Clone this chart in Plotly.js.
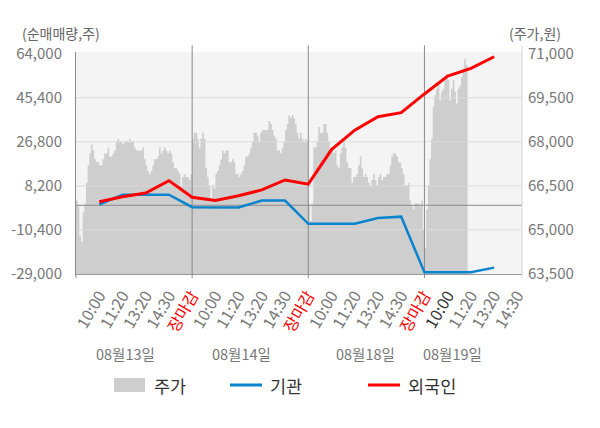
<!DOCTYPE html>
<html>
<head>
<meta charset="utf-8">
<script src="https://cdn.plot.ly/plotly-3.0.1.min.js"></script>
<style>
  body { margin: 0; background: #fff; }
  #chart { width: 600px; height: 428px; }
</style>
</head>
<body>
<div id="chart"></div>
<script>
// price (주가) per day, sampled along the session
const day1Price = [66000, 65800, 64800, 64600, 65600, 65900, 66600, 67200, 67600, 67900,
  67700, 67400, 67300, 67300, 67200, 67200, 67400, 67600, 67600, 67800,
  67500, 67500, 67600, 67700, 68000, 68100, 68000, 68000, 67900, 68000,
  68000, 68000, 68100, 68000, 68000, 67800, 67700, 67700, 67700, 67700,
  67800, 67400, 67200, 67000, 66900, 67000, 67200, 67400, 67400, 67500,
  67800, 67600, 67700, 67800, 67700, 67600, 67700, 67600, 67300, 67100,
  67100, 67000, 66900, 66500, 66800, 66900, 66800, 66800, 66700, 66900];
const day2Price = [68100, 68300, 68300, 68100, 67800, 68100, 68300, 68100, 67100, 66800,
  66500, 66000, 66500, 66400, 66900, 67000, 67200, 67400, 67700, 67600,
  67700, 67700, 67300, 67300, 67400, 67300, 66900, 66900, 66800, 66900,
  67000, 67200, 67500, 67500, 67600, 67800, 68000, 68300, 68300, 68200,
  68000, 68300, 68400, 68400, 68400, 68400, 68700, 68600, 68400, 68200,
  68100, 67700, 67700, 67600, 67800, 68000, 68400, 68600, 68900, 68800,
  68900, 68800, 68600, 68300, 68100, 68300, 68100, 68000, 68100, 68000];
const day3Price = [65900, 65300, 65900, 67800, 67800, 68000, 68500, 68300, 68300, 68600,
  68600, 68300, 68000, 67700, 67800, 67600, 67700, 67200, 67100, 67600,
  67800, 68000, 67800, 67300, 67100, 67100, 66600, 66800, 66800, 66900,
  67200, 67500, 67100, 66800, 66900, 66800, 66600, 66500, 66700, 66900,
  66700, 66500, 66800, 66900, 66700, 66800, 66800, 66900, 66900, 67200,
  67500, 67600, 67600, 67500, 67300, 67300, 67100, 66900, 66500, 66500,
  66600, 66000, 65800, 65700, 65900, 65900, 65900, 65800, 66000, 65000];
const day4Price = [64400, 65700, 66500, 67400, 68100, 69200, 69600, 69800, 70000, 69400,
  69700, 69800, 70200, 70300, 70100, 69400, 69800, 70100, 69700, 69300,
  69800, 69900, 70200, 70500, 70800, 70600, 70600];

// cumulative net buying (순매매량) at each labelled time
const foreignNet = [1500, 3600, 5200, 10400, 3400, 2000, 4000, 6500, 10700, 8900,
  23500, 31700, 37400, 39100, 47000, 54500, 57800, 62700];
const instNet = [300, 4500, 4500, 4500, -800, -900, -900, 2000, 2000, -7800,
  -7800, -7800, -5400, -4800, -28300, -28300, -28300, -26300];

const sessionLabels = ['10:00', '11:20', '13:20', '14:30', '장마감'];
const dayLabels = ['08월13일', '08월14일', '08월18일', '08월19일'];
const leftTicks = [-29000, -10400, 8200, 26800, 45400, 64000];
const rightTicks = [63500, 65000, 66500, 68000, 69500, 71000];

const FONT = '"Noto Sans CJK KR", "Noto Sans", sans-serif';
const W = 600, H = 428, ML = 76, MR = 78, MT = 52, MB = 154;
const PW = W - ML - MR, PH = H - MT - MB;
const px = v => (v - ML) / PW;
const py = v => (H - MB - v) / PH;

const perDay = 5, samples = 70;
const xMax = 19.2;
const leftRange = [-29000, 64700];
const rightRange = [63500, 71050];

// price area x positions
const priceX = [], priceY = [];
[day1Price, day2Price, day3Price, day4Price].forEach((arr, d) => {
  arr.forEach((v, i) => {
    priceX.push(d * perDay + i * perDay / samples);
    priceY.push(v);
  });
});

const lineX = foreignNet.map((_, i) => i + 1);

// x tick labels
const tickVals = [], tickText = [];
dayLabels.forEach((_, d) => {
  sessionLabels.forEach((s, j) => {
    if (d === dayLabels.length - 1 && j === sessionLabels.length - 1) return;
    tickVals.push(d * perDay + j + 1);
    if (s === '장마감') tickText.push('<span style="color:#ff0000">' + s + '</span>');
    else if (d === dayLabels.length - 1 && j === 0) tickText.push('<span style="color:#333">' + s + '</span>');
    else tickText.push(s);
  });
});

const traces = [];
traces.push({
  x: priceX, y: priceY, type: 'scatter', mode: 'lines',
  line: { width: 0, shape: 'hv', color: '#cecece' },
  fill: 'tozeroy', fillcolor: '#cecece',
  xaxis: 'x', yaxis: 'y', hoverinfo: 'skip', showlegend: false
});
// grid lines over the area
leftTicks.slice(1, -1).forEach(v => {
  traces.push({
    x: [0, xMax], y: [v, v], type: 'scatter', mode: 'lines', yaxis: 'y2',
    line: { color: '#dcdcdc', width: 1 }, hoverinfo: 'skip', showlegend: false
  });
});
// day separators
[1, 2, 3].forEach(d => {
  traces.push({
    x: [d * perDay, d * perDay], y: leftRange, type: 'scatter', mode: 'lines', yaxis: 'y2',
    line: { color: '#8a8a8a', width: 1 }, hoverinfo: 'skip', showlegend: false
  });
});
// zero line
traces.push({
  x: [0, xMax], y: [0, 0], type: 'scatter', mode: 'lines', yaxis: 'y2',
  line: { color: '#8a8a8a', width: 1 }, hoverinfo: 'skip', showlegend: false
});
traces.push({
  x: lineX, y: instNet, type: 'scatter', mode: 'lines', yaxis: 'y2', name: '기관',
  line: { color: '#0a84cc', width: 2.5 }, showlegend: false
});
traces.push({
  x: lineX, y: foreignNet, type: 'scatter', mode: 'lines', yaxis: 'y2', name: '외국인',
  line: { color: '#ff0000', width: 3 }, showlegend: false
});

const fmt = v => v.toLocaleString('en-US');

const annotations = [];
annotations.push({ xref: 'paper', yref: 'paper', x: px(20), y: py(33), xanchor: 'left', yanchor: 'middle',
  text: '(순매매량,주)', showarrow: false, font: { family: FONT, size: 14, color: '#666' } });
annotations.push({ xref: 'paper', yref: 'paper', x: px(563), y: py(33), xanchor: 'right', yanchor: 'middle',
  text: '(주가,원)', showarrow: false, font: { family: FONT, size: 14, color: '#666' } });
const dayCenters = [125, 241, 365, 452];
dayLabels.forEach((t, i) => {
  annotations.push({ xref: 'paper', yref: 'paper', x: px(dayCenters[i]), y: py(353), xanchor: 'center', yanchor: 'middle',
    text: t, showarrow: false, font: { family: FONT, size: 14.5, color: '#777' } });
});
const legendItems = [
  { name: '주가', x: 114, kind: 'box', color: '#cecece' },
  { name: '기관', x: 230, kind: 'line', color: '#0a84cc' },
  { name: '외국인', x: 368, kind: 'line', color: '#ff0000' }
];
const shapes = [];
legendItems.forEach(it => {
  if (it.kind === 'box') {
    shapes.push({ type: 'rect', xref: 'paper', yref: 'paper', x0: px(it.x), x1: px(it.x + 31), y0: py(378), y1: py(392),
      fillcolor: it.color, line: { width: 0 } });
  } else {
    shapes.push({ type: 'line', xref: 'paper', yref: 'paper', x0: px(it.x), x1: px(it.x + 32), y0: py(385), y1: py(385),
      line: { color: it.color, width: 3 } });
  }
  annotations.push({ xref: 'paper', yref: 'paper', x: px(it.x + 38), y: py(385), xanchor: 'left', yanchor: 'middle',
    text: it.name, showarrow: false, font: { family: FONT, size: 17.5, color: '#333' } });
});
// little stubs outside the plot area
[0, 1, 2, 3].forEach(d => {
  const xp = px(ML + d * perDay * PW / xMax);
  shapes.push({ type: 'line', xref: 'paper', yref: 'paper', x0: xp, x1: xp, y0: -0.018, y1: 0,
    line: { color: '#8a8a8a', width: 1 } });
  if (d > 0) shapes.push({ type: 'line', xref: 'paper', yref: 'paper', x0: xp, x1: xp, y0: 1, y1: 1.03,
    line: { color: '#8a8a8a', width: 1 } });
});
shapes.push({ type: 'line', xref: 'paper', yref: 'paper', x0: 1, x1: 1, y0: -0.018, y1: 1.03,
  line: { color: '#d6d6d6', width: 1 } });

const layout = {
  width: W, height: H,
  margin: { l: ML, r: MR, t: MT, b: MB },
  paper_bgcolor: '#ffffff', plot_bgcolor: '#f4f4f4',
  font: { family: FONT, color: '#666' },
  showlegend: false,
  xaxis: {
    range: [0, xMax], tickvals: tickVals, ticktext: tickText, tickangle: -60,
    showgrid: false, zeroline: false, showline: true, linecolor: '#999', linewidth: 1,
    ticks: '', tickfont: { family: FONT, size: 16, color: '#777' }, ticklabelstandoff: 5
  },
  yaxis: {
    side: 'right', range: rightRange, tickvals: rightTicks, ticktext: rightTicks.map(fmt),
    showgrid: false, zeroline: false, showline: false, ticks: '',
    tickfont: { family: FONT, size: 15, color: '#777' }, ticklabelstandoff: 5
  },
  yaxis2: {
    overlaying: 'y', side: 'left', range: leftRange, tickvals: leftTicks, ticktext: leftTicks.map(fmt),
    showgrid: false, zeroline: false, showline: true, linecolor: '#8a8a8a', linewidth: 1, ticks: '',
    tickfont: { family: FONT, size: 15, color: '#777' }, ticklabelstandoff: 10
  },
  annotations: annotations,
  shapes: shapes
};

Plotly.newPlot('chart', traces, layout, { displayModeBar: false, staticPlot: true });
</script>
</body>
</html>
